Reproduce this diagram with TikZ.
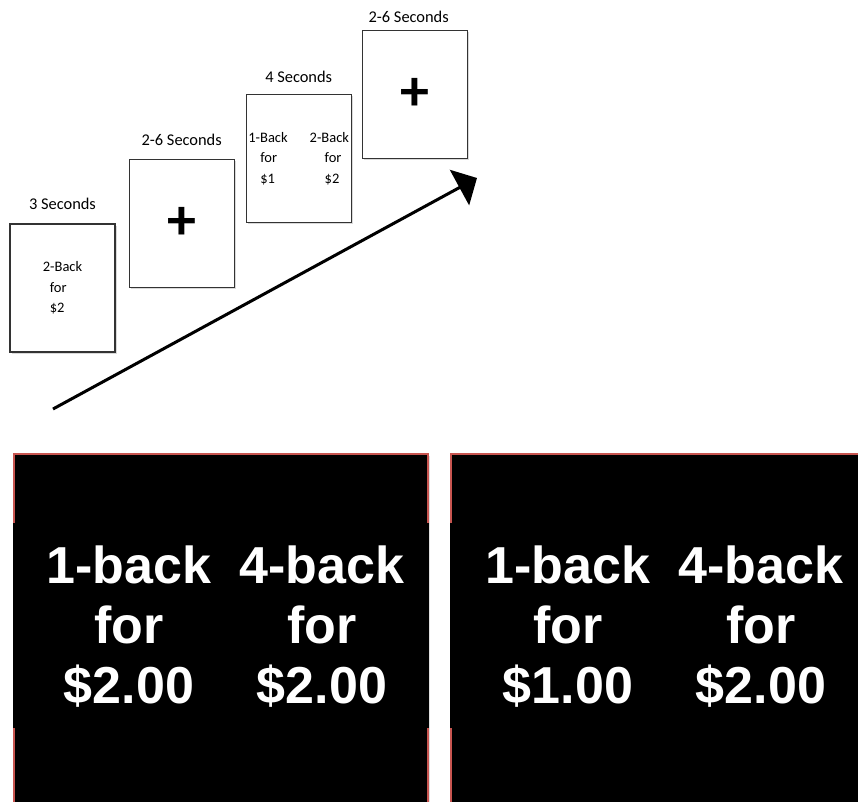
\documentclass[tikz,border=0pt]{standalone}
\usepackage{fontspec}
\setmainfont{Carlito}
\newfontfamily\arialfont{Liberation Sans}
\usetikzlibrary{positioning,arrows.meta,shadows}
\definecolor{rimred}{RGB}{200,85,80}

\begin{document}
\begin{tikzpicture}[x=1pt,y=-1pt]
\tikzset{frame/.style = {shape=rectangle, draw=black!80, line width=1.2pt, fill=white, minimum width=105pt, minimum height=128pt, inner sep=0pt, align=left, font=\fontsize{14.5}{20.5}\selectfont, drop shadow={shadow xshift=1.5pt, shadow yshift=-1.5pt, opacity=0.3}}}
\tikzset{timing/.style = {inner sep=0pt, font=\fontsize{16.4}{20}\selectfont}}
\tikzset{cross/.style = {font=\fontsize{58}{58}\selectfont\bfseries}}
\tikzset{edge/.style = {line width=3pt, -{Triangle[length=20pt,width=40pt]}}}
\tikzset{screen/.style = {draw=rimred, fill=black, line width=2pt, drop shadow={shadow xshift=1.5pt, shadow yshift=-1.5pt, opacity=0.25}}}
\tikzset{band/.style = {fill=black}}
\tikzset{choice/.style = {text=white, align=center, inner sep=0pt, font=\arialfont\bfseries\fontsize{52}{60}\selectfont}}
\useasboundingbox (0,0) rectangle (858,801);
\clip (0,0) rectangle (858,801);
% trial
\node[frame](b1) at (62.5,288) {2-Back\\\hspace{7pt}for\\\hspace{7pt}\$2};
\node[frame, cross, right=13pt of b1.north east](b2) {+};
\node[frame, right=10.8pt of b2.north east](b3) {\begin{tabular}{@{}l@{\hspace{22pt}}l@{}}1-Back & 2-Back\\ \hspace{12pt}for & \hspace{15pt}for\\ \hspace{12pt}\$1 & \hspace{15pt}\$2\end{tabular}};
\node[frame, cross, right=9.8pt of b3.north east](b4) {+};
\node[timing, above=14pt of b1](l1) {3 Seconds};
\node[timing, above=13pt of b2](l2) {2-6 Seconds};
\node[timing, above=11pt of b3](l3) {4 Seconds};
\node[timing, above=7pt of b4, xshift=-6pt](l4) {2-6 Seconds};
\coordinate (start) at (53,409);
\coordinate (end) at (477,178);
\draw[edge] (start) -- (end);
% choice screens
\draw[screen] (14,454) rectangle (428,815);
\fill[band] (13,523) rectangle (429,728);
\draw[screen] (451,454) rectangle (880,815);
\fill[band] (450,523) rectangle (870,728);
\node[choice](c1) at (129,627) {1-back\\for\\\$2.00};
\node[choice](c2) at (322,627) {4-back\\for\\\$2.00};
\node[choice](c3) at (568,627) {1-back\\for\\\$1.00};
\node[choice](c4) at (761,627) {4-back\\for\\\$2.00};
\end{tikzpicture}
\end{document}
